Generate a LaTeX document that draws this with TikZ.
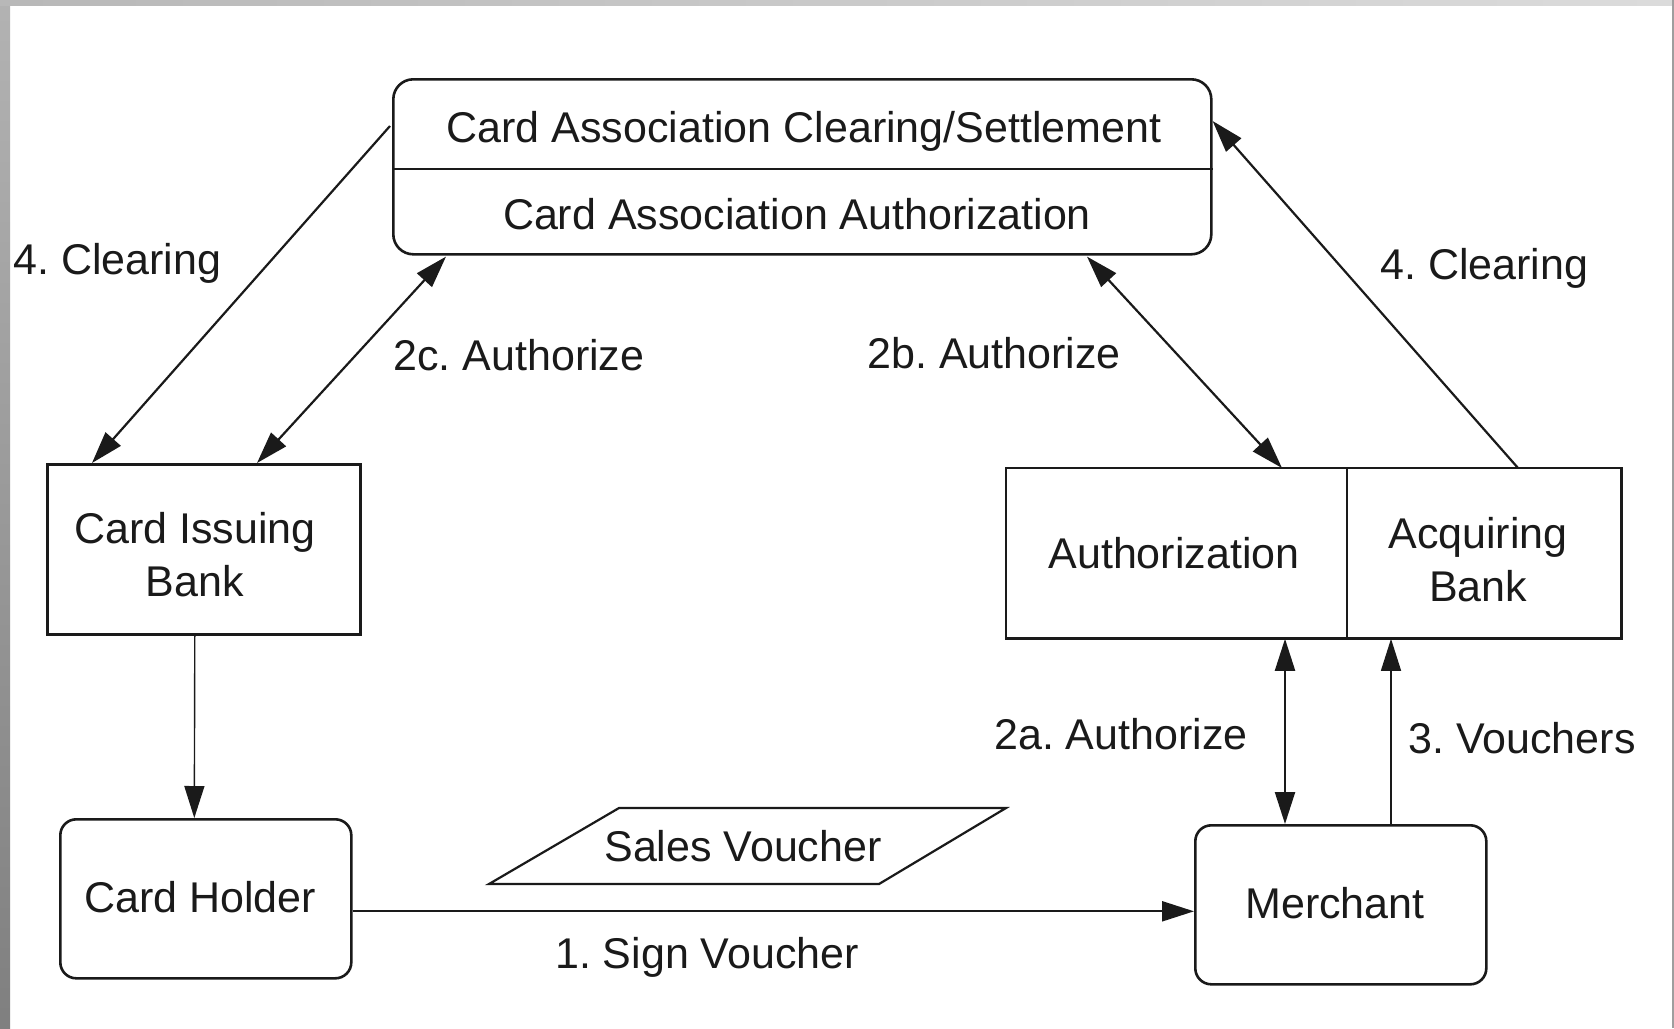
\documentclass[tikz,border=0pt]{standalone}
\usepackage{fontspec}
\setmainfont{Liberation Sans}
\usetikzlibrary{arrows.meta,calc}
\definecolor{ink}{HTML}{1A1A1A}
\frenchspacing
\begin{document}
\begin{tikzpicture}[x=0.5pt,y=-0.5pt,
  every node/.style={font=\fontsize{21.5pt}{26pt}\selectfont, text=ink},
  txt/.style={inner sep=0pt, anchor=base},
  twoline/.style={align=center, font=\fontsize{21.5pt}{26.3pt}\selectfont},
  frame/.style={draw=ink, line width=1.3pt, inner sep=0pt, anchor=north west},
  ghost/.style={inner sep=0pt, anchor=north west},
  flow/.style={draw=ink, line width=1.1pt, -{Triangle[length=16pt,width=10pt]}},
  both/.style={draw=ink, line width=1.1pt, {Triangle[length=16pt,width=10pt]}-{Triangle[length=16pt,width=10pt]}},
  thinflow/.style={draw=ink, line width=0.7pt, -{Triangle[length=16pt,width=10pt]}}]
\useasboundingbox (0,0) rectangle (1674,1028);
% page edge
\fill[white] (0,0) rectangle (1674,1028);
\shade[top color=black!30, bottom color=black!50] (0,0) rectangle (10,1028);
\shade[left color=black!28, right color=black!14] (0,0) rectangle (1674,5);
\fill[black!38] (1672,0) rectangle (1674,1028);

% boxes
\node[frame, rounded corners=10pt, minimum width=409pt, minimum height=87.5pt] (assoc) at (392,78) {};
\draw[ink, line width=0.9pt] ($(assoc.north west)+(0,91)$) -- ($(assoc.north east)+(0,91)$);
\node[txt] (assocA) at (804,142) {Card Association Clearing/Settlement};
\node[txt] (assocB) at (797,229) {Card Association Authorization};

\node[frame, minimum width=156.5pt, minimum height=85pt] (cib) at (46,463) {};
\node[txt, twoline] (cibt) at (195,596) {Card Issuing\\Bank};

\node[frame, rounded corners=8pt, minimum width=145.5pt, minimum height=79.5pt] (ch) at (59,818) {};
\node[txt] (cht) at (200,912) {Card Holder};

\node[ghost, minimum width=170.5pt, minimum height=85pt] (auth) at (1006,468) {};
\node[ghost, minimum width=137pt, minimum height=85pt] (acq) at (1347,468) {};
\draw[ink, line width=1.4pt] (auth.north west) rectangle (acq.south east);
\draw[ink, line width=0.7pt] (acq.north west) -- (acq.south west);
\node[txt] (autht) at (1174,568) {Authorization};
\node[txt, twoline] (acqt) at (1478,601) {Acquiring\\Bank};

\node[frame, rounded corners=8pt, minimum width=145.5pt, minimum height=79.5pt] (mer) at (1194,824) {};
\node[txt] (mert) at (1335,918) {Merchant};

% sales voucher slip
\node[txt] (sv) at (743,861) {Sales Voucher};
\draw[ink, line width=1.1pt] (489,884) -- (619,808) -- (1006,808) -- (879,884) -- cycle;

% connectors
\draw[flow] ($(assoc.north west)+(-2,48)$) -- ($(cib.north west)+(46,0)$);
\draw[both] ($(cib.north west)+(211,0)$) -- ($(assoc.south west)+(54,1)$);
\draw[both] ($(assoc.south west)+(695,1)$) -- ($(auth.north west)+(276,0)$);
\draw[flow] ($(acq.north west)+(171,0)$) -- ($(assoc.north east)+(0,43)$);
\draw[thinflow] ($(cib.south)+(-9,0)$) -- ($(ch.north)+(-11.5,0)$);
\coordinate (p2a) at ($(auth.south west)+(279,0)$);
\draw[both] (p2a) -- (p2a |- mer.north);
\coordinate (p3) at ($(acq.south west)+(44,0)$);
\draw[thinflow] (p3 |- mer.north) -- (p3);
\coordinate (p1) at ($(ch.east)+(0,12.5)$);
\draw[flow] (p1) -- (p1 -| mer.west);

% labels
\node[txt, anchor=base west] (l4a) at (13,274) {4. Clearing};
\node[txt, anchor=base west] (l2c) at (393,370) {2c. Authorize};
\node[txt, anchor=base west] (l2b) at (867,368) {2b. Authorize};
\node[txt, anchor=base west] (l4b) at (1380,279) {4. Clearing};
\node[txt, anchor=base east] (l2a) at (1248,749) {2a. Authorize};
\node[txt, anchor=base west] (l3) at (1408,753) {3. Vouchers};
\node[txt] (l1) at (707,968) {1. Sign Voucher};
\end{tikzpicture}
\end{document}
